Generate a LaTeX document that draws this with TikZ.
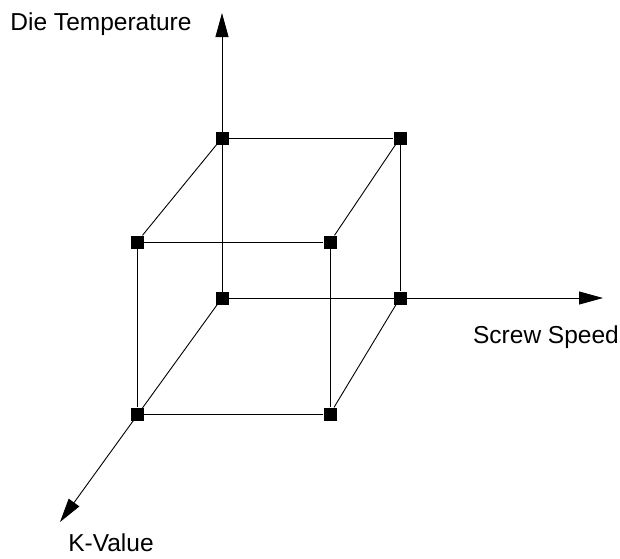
\documentclass[tikz,border=0pt]{standalone}
\usepackage{fontspec}
\setmainfont{Liberation Sans}
\usetikzlibrary{arrows.meta}

\begin{document}
\begin{tikzpicture}[
    x=1pt, y=-1pt,
    corner/.style={
        rectangle, fill=black, inner sep=0pt,
        minimum size=13pt
    },
    edge/.style={
        line width=0.9pt
    },
    axis/.style={
        -{Triangle[length=24pt, width=13pt]}, line width=0.9pt
    },
    label/.style={
        anchor=base, font=\fontsize{24.5}{28}\selectfont
    }
]
\useasboundingbox (0,0) rectangle (620,558);

% Back face
\node[corner] (bbl) at (222,298) {};
\node[corner] (bbr) at (400,298) {};
\node[corner] (btl) at (222,138) {};
\node[corner] (btr) at (400,138) {};

% Front face
\node[corner] (fbl) at (137,414) {};
\node[corner] (fbr) at (330,414) {};
\node[corner] (ftl) at (137,242) {};
\node[corner] (ftr) at (330,242) {};

% Axis ends
\coordinate (temp) at (222,13);
\coordinate (speed) at (603,298);
\coordinate (kval) at (60,522);

% Axes
\draw[axis] (bbl.center) -- (temp);
\draw[axis] (bbl.center) -- (speed);
\draw[axis] (bbl.center) -- (kval);

% Cube edges
\draw[edge] (btl) -- (btr) -- (bbr);
\draw[edge] (ftl) -- (ftr) -- (fbr) -- (fbl) -- (ftl);
\draw[edge] (btl) -- (ftl);
\draw[edge] (btr) -- (ftr);
\draw[edge] (bbr) -- (fbr);

% Labels
\node[label] (templabel) at (101,30) {Die Temperature};
\node[label] (speedlabel) at (546,343) {Screw Speed};
\node[label] (kvallabel) at (111,551) {K-Value};

\end{tikzpicture}
\end{document}
